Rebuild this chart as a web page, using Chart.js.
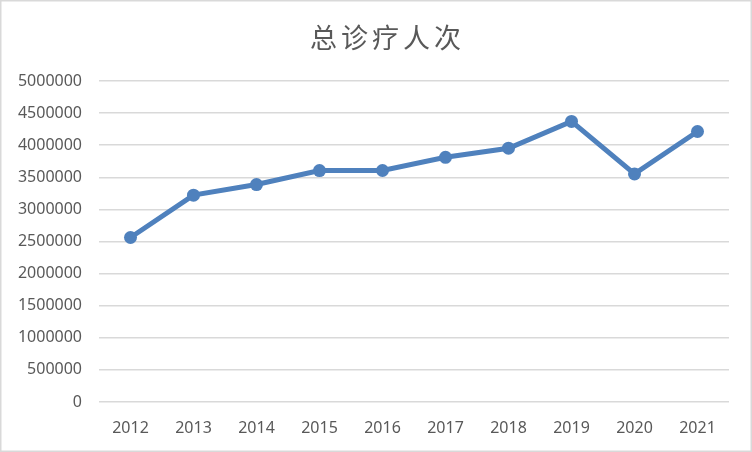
<!DOCTYPE html>
<html>
<head>
<meta charset="utf-8">
<script src="https://cdn.jsdelivr.net/npm/chart.js@4"></script>
<style>
  html, body { margin: 0; padding: 0; background: #fff; }
  #c { display: block; }
</style>
</head>
<body>
<canvas id="c" width="752" height="452"></canvas>
<script>
const chartTitle = "总诊疗人次";
const years = ["2012", "2013", "2014", "2015", "2016", "2017", "2018", "2019", "2020", "2021"];
const visits = [2562000, 3222000, 3387000, 3604000, 3606000, 3811000, 3953000, 4371000, 3553000, 4213000];

const frame = {
  id: 'frame',
  beforeDraw(chart) {
    const ctx = chart.ctx;
    ctx.save();
    ctx.fillStyle = '#ffffff';
    ctx.fillRect(0, 0, chart.width, chart.height);
    ctx.strokeStyle = '#d9d9d9';
    ctx.lineWidth = 1.5;
    ctx.strokeRect(0.75, 0.75, chart.width - 1.5, chart.height - 1.5);
    ctx.restore();
  },
  afterDraw(chart) {
    const ctx = chart.ctx;
    ctx.save();
    ctx.fillStyle = '#595959';
    ctx.font = "normal 27px 'Noto Sans CJK SC', sans-serif";
    ctx.textAlign = 'center';
    ctx.textBaseline = 'middle';
    try { ctx.letterSpacing = '4px'; } catch (e) {}
    ctx.fillText(chartTitle, 387.5, 38);
    ctx.restore();
  }
};

new Chart(document.getElementById('c'), {
  type: 'line',
  data: {
    labels: years,
    datasets: [{
      label: chartTitle,
      data: visits,
      borderColor: '#4f81bd',
      backgroundColor: '#4f81bd',
      borderWidth: 5,
      pointRadius: 6.5,
      pointHoverRadius: 6.5,
      pointBackgroundColor: '#4f81bd',
      pointBorderColor: '#4f81bd',
      pointBorderWidth: 0,
      tension: 0,
      fill: false
    }]
  },
  options: {
    responsive: false,
    devicePixelRatio: 1,
    animation: false,
    layout: { padding: { left: 8, right: 23, top: 81, bottom: 8 } },
    plugins: {
      legend: { display: false },
      tooltip: { enabled: false },
      title: { display: false }
    },
    scales: {
      x: {
        offset: true,
        grid: { display: false, drawTicks: false },
        border: { display: false },
        ticks: {
          color: '#595959',
          font: { family: "'Noto Sans', sans-serif", size: 16 },
          padding: 17,
          maxRotation: 0
        },
        afterFit(scale) { scale.height = 42; }
      },
      y: {
        min: 0,
        max: 5000000,
        ticks: {
          stepSize: 500000,
          color: '#595959',
          font: { family: "'Noto Sans', sans-serif", size: 16 },
          padding: 17,
          callback: (v) => String(v)
        },
        grid: { color: '#d9d9d9', lineWidth: 1.5, drawTicks: false },
        border: { display: false },
        afterFit(scale) { scale.width = 91; }
      }
    }
  },
  plugins: [frame]
});
</script>
</body>
</html>
